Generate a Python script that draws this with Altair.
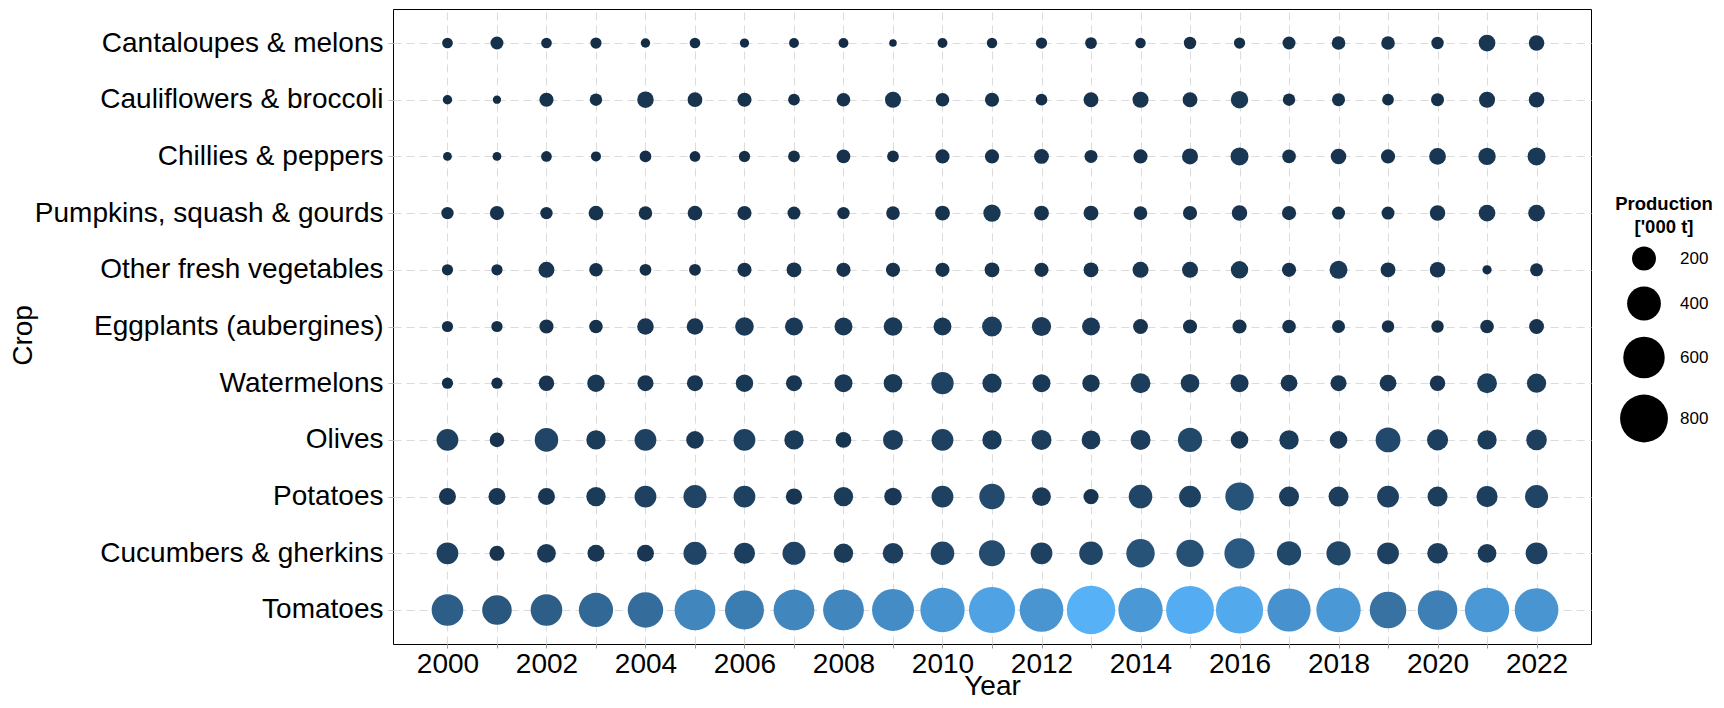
import altair as alt
import pandas as pd

years = list(range(2000, 2023))
crops = [
    "Cantaloupes & melons",
    "Cauliflowers & broccoli",
    "Chillies & peppers",
    "Pumpkins, squash & gourds",
    "Other fresh vegetables",
    "Eggplants (aubergines)",
    "Watermelons",
    "Olives",
    "Potatoes",
    "Cucumbers & gherkins",
    "Tomatoes",
]

cantaloupes = [40, 59, 40, 44, 31, 40, 30, 34, 34, 20, 34, 38, 44, 48, 38, 54, 44, 59, 65, 65, 54, 98, 84]
cauliflowers = [31, 24, 70, 54, 96, 76, 70, 48, 65, 90, 65, 70, 48, 77, 90, 77, 106, 54, 59, 48, 59, 90, 84]
chillies = [27, 27, 40, 35, 49, 40, 44, 48, 65, 48, 70, 70, 77, 59, 70, 90, 113, 65, 84, 70, 98, 106, 113]
pumpkins = [54, 70, 54, 76, 64, 76, 70, 59, 54, 65, 77, 106, 77, 77, 65, 70, 84, 70, 59, 59, 84, 98, 98]
other_veg = [44, 44, 89, 64, 49, 49, 70, 77, 70, 70, 70, 77, 70, 77, 90, 90, 106, 70, 113, 77, 84, 30, 59]
eggplants = [44, 44, 70, 64, 96, 96, 121, 113, 113, 121, 113, 138, 129, 113, 77, 70, 70, 65, 59, 54, 54, 65, 77]
watermelons = [44, 44, 84, 106, 90, 90, 106, 90, 113, 121, 174, 129, 113, 106, 138, 121, 113, 98, 90, 98, 84, 138, 129]
olives = [166, 74, 194, 131, 166, 108, 166, 131, 86, 140, 166, 131, 140, 123, 140, 205, 108, 131, 108, 215, 156, 131, 148]
potatoes = [101, 101, 101, 131, 166, 185, 166, 93, 131, 108, 166, 226, 123, 80, 194, 166, 282, 140, 140, 166, 140, 156, 185]
cucumbers = [166, 80, 123, 101, 101, 185, 156, 185, 131, 148, 194, 236, 166, 194, 282, 259, 320, 205, 205, 166, 148, 123, 166]
tomatoes = [349, 305, 349, 410, 439, 581, 531, 581, 581, 614, 686, 742, 667, 820, 686, 800, 780, 650, 686, 468, 548, 686, 667]

series = [cantaloupes, cauliflowers, chillies, pumpkins, other_veg, eggplants,
          watermelons, olives, potatoes, cucumbers, tomatoes]

legend_values = [200, 400, 600, 800]

rows = []
for crop, vals in zip(crops, series):
    for y, v in zip(years, vals):
        rows.append({"Year": y, "Crop": crop, "Production": v})
df = pd.DataFrame(rows)

FONT = "Liberation Sans"
vmin = min(min(s) for s in series)
vmax = max(max(s) for s in series)

chart = alt.Chart(df).mark_circle(opacity=1).encode(
    x=alt.X(
        "Year:Q",
        scale=alt.Scale(domain=[1998.9, 2023.1], nice=False, zero=False),
        axis=alt.Axis(
            values=years,
            format="d",
            labelExpr="datum.value % 2 === 0 ? datum.label : ''",
            title="Year",
            titleY=50,
            titleBaseline="alphabetic",
            labelFontSize=28,
            labelColor="black",
            labelPadding=2,
            tickSize=4,
            tickColor="#999999",
            domain=False,
            grid=True,
            gridColor="#dcdcdc",
            gridDash=[8, 5],
            gridWidth=1,
            titleFontSize=28,
            titleFontWeight="normal",
            titleColor="black",
        ),
    ),
    y=alt.Y(
        "Crop:N",
        sort=crops,
        scale=alt.Scale(padding=0.6),
        axis=alt.Axis(
            title="Crop",
            titleAngle=270,
            titleX=-362,
            titleY=326,
            titleAlign="center",
            titleBaseline="alphabetic",
            labelFontSize=28,
            labelLimit=0,
            labelColor="black",
            labelPadding=5,
            tickSize=5,
            tickColor="#bbbbbb",
            domain=False,
            grid=True,
            gridColor="#dcdcdc",
            gridDash=[8, 5],
            gridWidth=1,
            titleFontSize=28,
            titleFontWeight="normal",
            titleColor="black",
        ),
    ),
    size=alt.Size(
        "Production:Q",
        scale=alt.Scale(domain=[0, 1000], range=[0, 2863]),
        legend=alt.Legend(
            values=legend_values,
            title=["Production", "['000 t]"],
            orient="none",
            legendX=1222,
            legendY=186,
            titleFontSize=18.5,
            titleFontWeight="bold",
            titleColor="black",
            titleAnchor="middle",
            titleAlign="center",
            titleLineHeight=23,
            titlePadding=10,
            labelFontSize=17,
            labelColor="black",
            labelOffset=12,
            rowPadding=16,
            symbolFillColor="black",
            symbolStrokeWidth=0,
            symbolOpacity=1,
            symbolType="circle",
        ),
    ),
    color=alt.Color(
        "Production:Q",
        scale=alt.Scale(domain=[vmin, vmax], range=["#132B43", "#56B1F7"], interpolate="lab"),
        legend=None,
    ),
    order=alt.Order("Year:Q"),
).properties(
    width=1198,
    height=635,
    autosize=alt.AutoSizeParams(type="none"),
    padding={"left": 385, "top": 1, "right": 125, "bottom": 56},
).configure(
    font=FONT,
).configure_view(
    stroke="black",
    strokeWidth=1,
)

chart.save("out.html", embed_options={"renderer": "svg", "actions": False})
